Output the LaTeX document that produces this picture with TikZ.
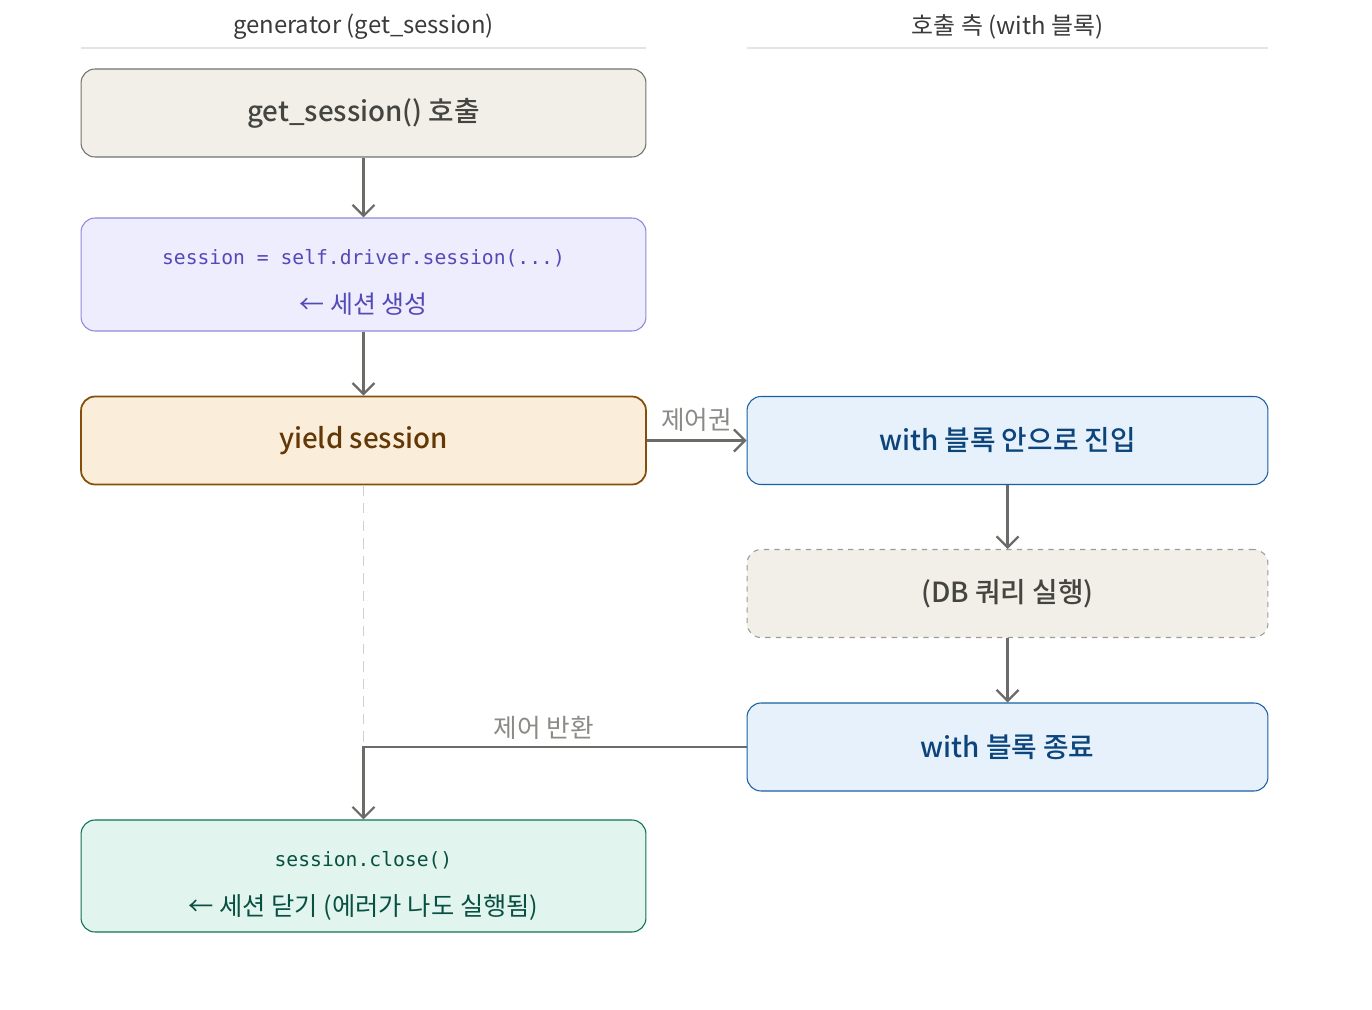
\documentclass[tikz,border=0pt]{standalone}
\usepackage{fontspec}
\setmainfont{Noto Sans CJK KR}
\newfontfamily\codefont{DejaVu Sans Mono}
\newfontfamily\medfont{Noto Sans CJK KR Medium}
\usetikzlibrary{arrows.meta}

\definecolor{lineGray}{HTML}{6B6B68}
\definecolor{sepGray}{HTML}{E4E4E4}
\definecolor{headText}{HTML}{3A3A3A}
\definecolor{neutralFill}{HTML}{F1EFE8}
\definecolor{neutralDraw}{HTML}{73726C}
\definecolor{neutralText}{HTML}{444441}
\definecolor{purpleFill}{HTML}{EEEDFE}
\definecolor{purpleDraw}{HTML}{8F88DA}
\definecolor{purpleText}{HTML}{534AB7}
\definecolor{amberFill}{HTML}{FAEEDA}
\definecolor{amberDraw}{HTML}{854F0B}
\definecolor{amberText}{HTML}{633806}
\definecolor{blueFill}{HTML}{E6F1FB}
\definecolor{blueDraw}{HTML}{185FA5}
\definecolor{blueText}{HTML}{0C447C}
\definecolor{tealFill}{HTML}{E1F5EE}
\definecolor{tealDraw}{HTML}{0F6E56}
\definecolor{tealText}{HTML}{085041}
\definecolor{labelGray}{HTML}{8A8A86}

\tikzset{
  box/.style={rectangle, rounded corners=0.28cm, line width=0.6pt,
    minimum height=1.76cm, inner sep=0pt, align=center},
  leftbox/.style={box, minimum width=11.3cm},
  rightbox/.style={box, minimum width=10.42cm},
  boxtext/.style={font=\medfont\fontsize{15.8}{18}\selectfont},
  flow/.style={draw=lineGray, line width=1.3pt,
    -{Straight Barb[length=2.2mm,width=4.4mm,line width=1.3pt]}},
  edgelabel/.style={text=labelGray, font=\fontsize{14.6}{16}\selectfont},
  header/.style={text=headText, font=\fontsize{13.6}{16}\selectfont}
}

\begin{document}
\begin{tikzpicture}[x=0.02cm, y=-0.02cm]
        \useasboundingbox (0, 0) rectangle (1372, 1010);

        % column headers
        \node[header] (hgen) at (363.5, 27) {generator (get\_session)};
        \node[header] (hcall) at (1007.5, 27) {호출 측 (with 블록)};
        \draw[sepGray, line width=0.6pt] (81, 48) -- (646, 48);
        \draw[sepGray, line width=0.6pt] (747, 48) -- (1268, 48);

        % generator side
        \node[leftbox, boxtext, fill=neutralFill, draw=neutralDraw, text=neutralText]
            (call) at (363.5, 113) {get\_session() 호출};
        \node[leftbox, minimum height=2.26cm, fill=purpleFill, draw=purpleDraw,
            text=purpleText] (create) at (363.5, 274.5)
            {\rule{0pt}{0.62cm}{\codefont\fontsize{11.2}{13}\selectfont session = self.driver.session(...)}\\[0.47cm]
             {\fontsize{14.2}{16}\selectfont ← 세션 생성}};
        \node[leftbox, boxtext, fill=amberFill, draw=amberDraw, line width=1pt, text=amberText]
            (yield) at (363.5, 440.5) {yield session};
        \node[leftbox, minimum height=2.24cm, fill=tealFill, draw=tealDraw,
            text=tealText] (close) at (363.5, 876)
            {\rule{0pt}{0.7cm}{\codefont\fontsize{11.2}{13}\selectfont session.close()}\\[0.47cm]
             {\fontsize{14.4}{16}\selectfont ← 세션 닫기 (에러가 나도 실행됨)}};

        % caller side
        \node[rightbox, boxtext, fill=blueFill, draw=blueDraw, text=blueText]
            (enter) at (1007.5, 440.5) {with 블록 안으로 진입};
        \node[rightbox, boxtext, fill=neutralFill, draw=neutralDraw!70, dashed, text=neutralText]
            (query) at (1007.5, 593.5) {(DB 쿼리 실행)};
        \node[rightbox, boxtext, fill=blueFill, draw=blueDraw, text=blueText]
            (leave) at (1007.5, 747) {with 블록 종료};

        % connectors
        \draw[flow] (call) -- (create);
        \draw[flow] (create) -- (yield);
        \draw[flow] (yield) -- node[edgelabel, above, pos=0.5, yshift=1pt] {제어권} (enter);
        \draw[flow] (enter) -- (query);
        \draw[flow] (query) -- (leave);

        \coordinate (turn) at (363.5, 747);
        \draw[sepGray!80!gray, line width=1pt, dash pattern=on 6pt off 4pt]
            (yield.south) -- (turn);
        \draw[flow] (leave.west) -- node[edgelabel, above, pos=0.53] {제어 반환} (turn) -- (close.north);
\end{tikzpicture}
\end{document}
